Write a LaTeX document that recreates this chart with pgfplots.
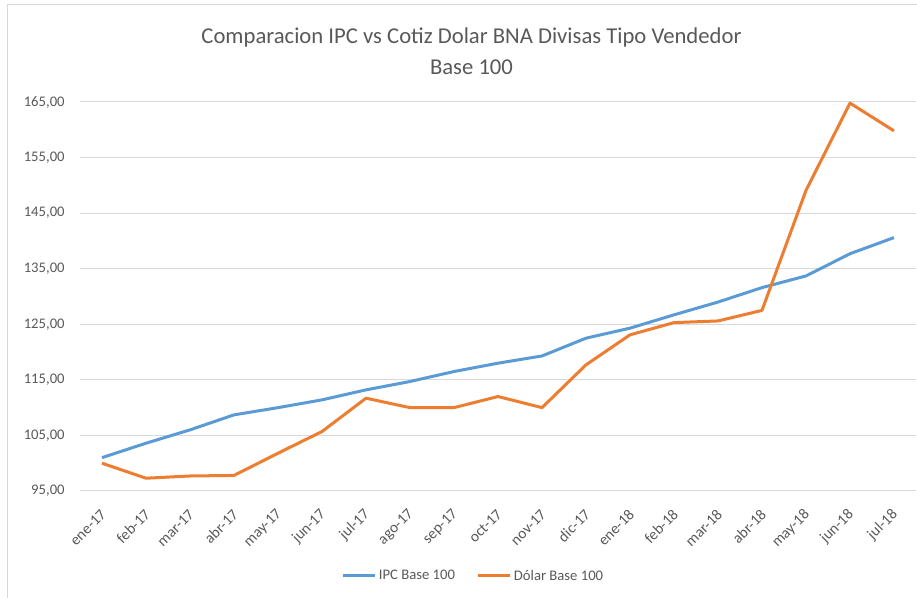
\documentclass[border=0pt]{standalone}
\usepackage{pgfplots}
\pgfplotsset{compat=1.18}
\usepackage{fontspec}
\setmainfont{Carlito}
\definecolor{ipc}{HTML}{5B9BD5}
\definecolor{dol}{HTML}{ED7D31}
\definecolor{txt}{HTML}{595959}
\definecolor{grd}{HTML}{D9D9D9}
\begin{document}
\begin{tikzpicture}[x=0.75pt,y=0.75pt]
\begin{axis}[
  at={(0,0)}, anchor=south west,
  scale only axis,
  width=627pt, height=291.75pt,
  xmin=-0.5, xmax=18.5,
  ymin=95, ymax=165,
  ytick={95,105,115,125,135,145,155,165},
  yticklabels={{95,00},{105,00},{115,00},{125,00},{135,00},{145,00},{155,00},{165,00}},
  xtick={0,...,18},
  xticklabels={ene-17,feb-17,mar-17,abr-17,may-17,jun-17,jul-17,ago-17,sep-17,oct-17,nov-17,dic-17,ene-18,feb-18,mar-18,abr-18,may-18,jun-18,jul-18},
  axis line style={draw=none},
  axis x line*=bottom,
  x axis line style={draw=grd, line width=0.75pt},
  tick style={draw=none},
  ymajorgrids, grid style={draw=grd, line width=0.75pt},
  yticklabel style={font=\fontsize{11}{13}\selectfont, text=txt, xshift=-8pt},
  xticklabel style={font=\fontsize{11.5}{13}\selectfont, text=txt, rotate=45, anchor=east, yshift=-12pt, xshift=-7pt},
  legend columns=2,
  legend style={at={(0.4707,-0.2185)}, anchor=center, draw=none, fill=none,
    font=\fontsize{11}{13}\selectfont, text=txt,
    /tikz/every even column/.append style={column sep=14pt}},
  legend image code/.code={\draw[#1, line width=2.25pt] (0pt,0pt) -- (24pt,0pt);},
  clip=false,
]
\addplot[color=ipc, line width=2.25pt, line join=round] coordinates {
(0,101.0) (1,103.6) (2,106.0) (3,108.7) (4,110.0) (5,111.4) (6,113.2) (7,114.7) (8,116.5) (9,118.0) (10,119.3) (11,122.5) (12,124.3) (13,126.7) (14,129.0) (15,131.6) (16,133.7) (17,137.7) (18,140.6)};
\addlegendentry{IPC Base 100}
\addplot[color=dol, line width=2.25pt, line join=round] coordinates {
(0,100.0) (1,97.3) (2,97.7) (3,97.8) (4,101.8) (5,105.7) (6,111.7) (7,110.0) (8,110.0) (9,112.0) (10,110.0) (11,117.7) (12,123.1) (13,125.3) (14,125.6) (15,127.5) (16,149.1) (17,164.8) (18,159.8)};
\addlegendentry{Dólar Base 100}
\end{axis}
\draw[grd, line width=0.75pt] (-72,-120) -- (-72,486) -- (900,486);
\node[text=txt, font=\fontsize{17}{20}\selectfont] at (391.5,454) {Comparacion IPC vs Cotiz Dolar BNA Divisas Tipo Vendedor};
\node[text=txt, font=\fontsize{17}{20}\selectfont] at (391.5,424) {Base 100};
\pgfresetboundingbox
\path[use as bounding box] (-80,-107) rectangle (837,491);
\end{tikzpicture}
\end{document}
